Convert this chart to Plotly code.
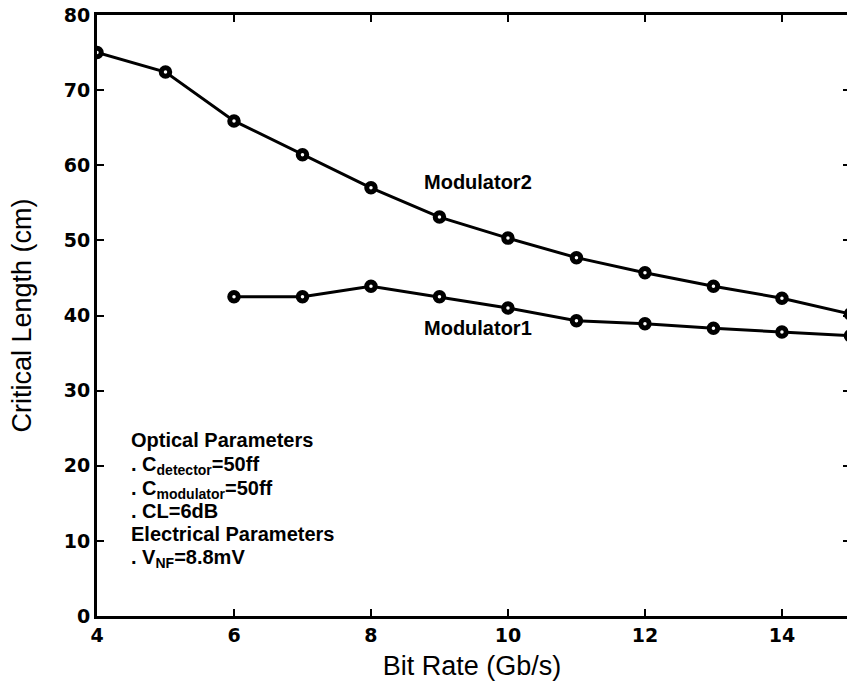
import plotly.graph_objects as go

bit_rate_m2 = [4, 5, 6, 7, 8, 9, 10, 11, 12, 13, 14, 15]
length_m2 = [75.0, 72.4, 65.9, 61.4, 57.0, 53.1, 50.3, 47.7, 45.7, 43.9, 42.3, 40.2]
bit_rate_m1 = [6, 7, 8, 9, 10, 11, 12, 13, 14, 15]
length_m1 = [42.5, 42.5, 43.9, 42.5, 41.0, 39.3, 38.9, 38.3, 37.8, 37.3]
x_ticks = [4, 6, 8, 10, 12, 14]
y_ticks = [0, 10, 20, 30, 40, 50, 60, 70, 80]

param_lines = [
    "<b>Optical Parameters</b>",
    "<b>. C<sub>detector</sub>=50ff</b>",
    "<b>. C<sub>modulator</sub>=50ff</b>",
    "<b>. CL=6dB</b>",
    "<b>Electrical Parameters</b>",
    "<b>. V<sub>NF</sub>=8.8mV</b>",
]
param_y_tops = [25.2, 22.0, 18.8, 15.7, 12.65, 9.6]

FONT = "Liberation Sans, Arial, sans-serif"
TICKFONT = "DejaVu Sans, sans-serif"
marker = dict(symbol="circle", size=8.5, color="white", line=dict(color="black", width=5))
line = dict(color="black", width=3)

fig = go.Figure()
fig.add_trace(go.Scatter(x=bit_rate_m2, y=length_m2, mode="lines+markers",
                         line=line, marker=marker, showlegend=False))
fig.add_trace(go.Scatter(x=bit_rate_m1, y=length_m1, mode="lines+markers",
                         line=line, marker=marker, showlegend=False))

# right-side inward ticks (axis line is cut off in the reference)
fig.add_trace(go.Scatter(x=[None], y=[None], yaxis="y2", showlegend=False))

fig.add_annotation(x=9.56, y=57.8, text="<b>Modulator2</b>", showarrow=False,
                   font=dict(family=FONT, size=20, color="black"))
fig.add_annotation(x=9.56, y=38.35, text="<b>Modulator1</b>", showarrow=False,
                   font=dict(family=FONT, size=20, color="black"))

for txt, yt in zip(param_lines, param_y_tops):
    fig.add_annotation(x=4.47, y=yt, xanchor="left", yanchor="top",
                       text=txt, showarrow=False, align="left",
                       font=dict(family=FONT, size=20, color="black"))

fig.update_layout(
    width=847, height=691,
    margin=dict(l=97, r=0, t=15, b=75),
    plot_bgcolor="white", paper_bgcolor="white",
    xaxis=dict(range=[4, 14.95], tickvals=x_ticks, ticks="inside", ticklen=7, tickwidth=2,
               tickcolor="black", showline=True, linecolor="black", linewidth=3,
               mirror="ticks", showgrid=False, zeroline=False,
               tickfont=dict(family=TICKFONT, size=19, color="black", weight="bold"),
               title=dict(text="Bit Rate (Gb/s)", standoff=12,
                          font=dict(family=FONT, size=27, color="black"))),
    yaxis=dict(range=[0, 80], tickvals=y_ticks, ticks="inside", ticklen=7, tickwidth=2,
               tickcolor="black", showline=True, linecolor="black", linewidth=3,
               showgrid=False, zeroline=False,
               tickfont=dict(family=TICKFONT, size=19, color="black", weight="bold"),
               title=dict(text="Critical Length (cm)", standoff=25,
                          font=dict(family=FONT, size=27, color="black"))),
    yaxis2=dict(range=[0, 80], tickvals=y_ticks, overlaying="y", side="right",
                ticks="inside", ticklen=4, tickwidth=2, tickcolor="black",
                showticklabels=False, showline=False, showgrid=False, zeroline=False),
)

fig.write_html("out.html")
